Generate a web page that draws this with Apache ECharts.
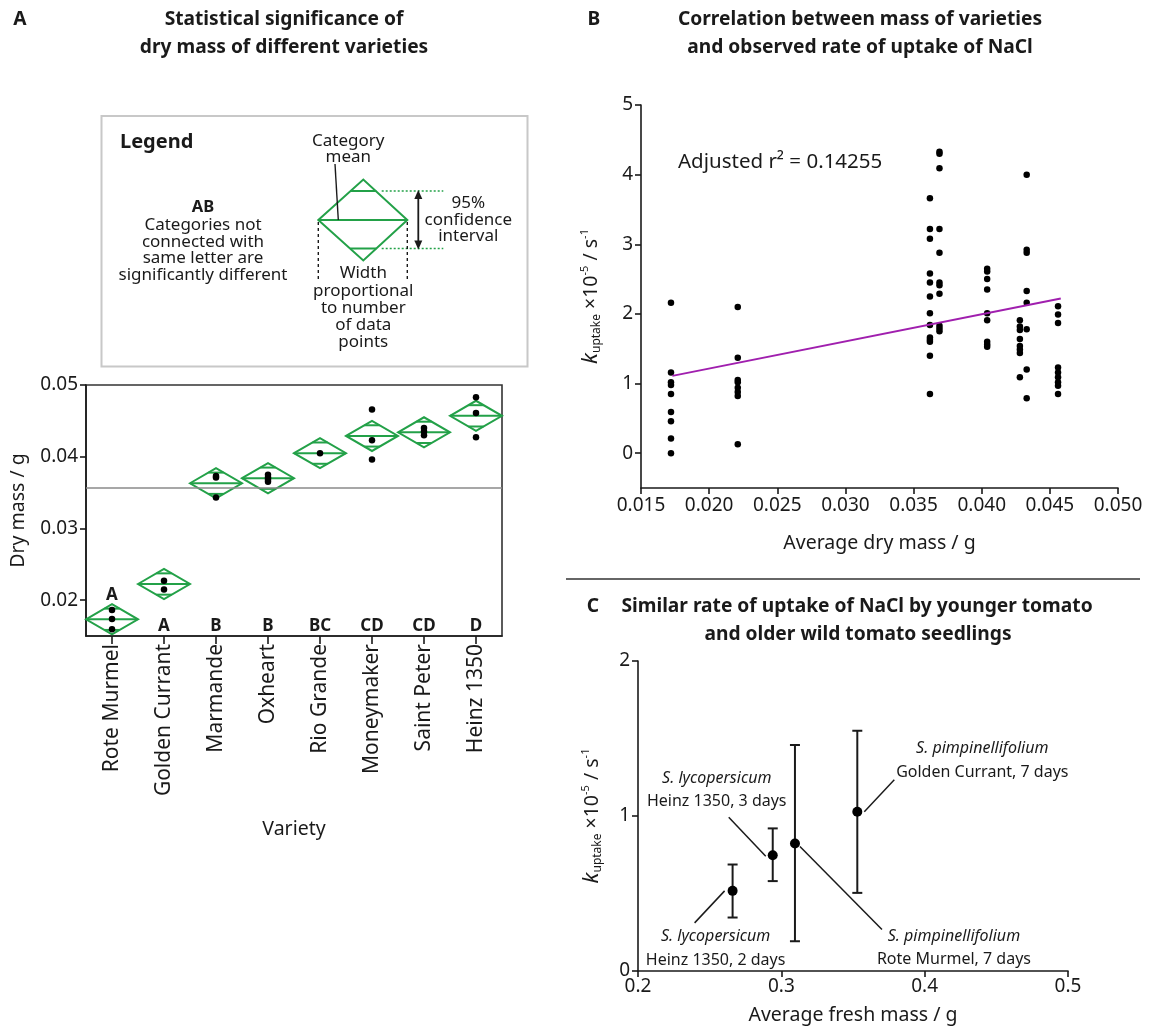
<!DOCTYPE html>
<html>
<head>
<meta charset="utf-8">
<script src="https://cdn.jsdelivr.net/npm/echarts@6/dist/echarts.min.js"></script>
<style>
  html, body { margin: 0; padding: 0; background: #fff; }
  #chart { width: 1151px; height: 1030px; }
</style>
</head>
<body>
<div id="chart"></div>
<script>
// ---- data ----
const varieties = ['Rote Murmel', 'Golden Currant', 'Marmande', 'Oxheart', 'Rio Grande', 'Moneymaker', 'Saint Peter', 'Heinz 1350']
const groupLetters = ['A', 'A', 'B', 'B', 'BC', 'CD', 'CD', 'D']
const dryMassMean = [0.01733, 0.02225, 0.0363, 0.0370, 0.0405, 0.0429, 0.0434, 0.0457]
const dryMassCI = [0.0021, 0.0021, 0.0021, 0.0021, 0.0021, 0.0021, 0.0021, 0.0021]
const dryMassPoints = [
  [0.01863, 0.01737, 0.01593],
  [0.0227, 0.0215],
  [0.0373, 0.0371, 0.0343],
  [0.0375, 0.0371, 0.0368, 0.0365],
  [0.0405],
  [0.0466, 0.0423, 0.0396],
  [0.0440, 0.0435, 0.0430],
  [0.0483, 0.0461, 0.0427]
]
const grandMean = 0.03568
const dryMassTicks = [0.02, 0.03, 0.04, 0.05]

const uptakeMass = [0.0172, 0.0221, 0.0362, 0.0369, 0.0404, 0.0428, 0.0433, 0.0456]
const uptakeRates = [
  [2.16, 1.16, 1.02, 0.98, 0.85, 0.59, 0.46, 0.21, 0.00],
  [2.10, 1.37, 1.05, 1.02, 0.94, 0.88, 0.82, 0.13],
  [3.66, 3.22, 3.08, 2.58, 2.45, 2.25, 2.01, 1.84, 1.66, 1.63, 1.60, 1.40, 0.85],
  [4.33, 4.30, 4.09, 3.22, 2.88, 2.45, 2.41, 2.29, 1.83, 1.79, 1.75],
  [2.65, 2.61, 2.50, 2.35, 2.01, 1.91, 1.60, 1.56, 1.53],
  [1.91, 1.82, 1.77, 1.64, 1.54, 1.49, 1.44, 1.09],
  [4.00, 2.92, 2.88, 2.33, 2.16, 1.78, 1.20, 0.79],
  [2.11, 1.99, 1.87, 1.23, 1.16, 1.09, 1.02, 0.97, 0.85]
]
const fitLine = [[0.0173, 1.11], [0.0458, 2.22]]
const massTicksB = [0.015, 0.020, 0.025, 0.030, 0.035, 0.040, 0.045, 0.050]
const rateTicksB = [0, 1, 2, 3, 4, 5]

const freshMass = [0.266, 0.294, 0.3095, 0.353]
const uptakeC = [0.517, 0.747, 0.823, 1.027]
const uptakeLow = [0.345, 0.58, 0.192, 0.504]
const uptakeHigh = [0.687, 0.92, 1.458, 1.55]
const species = ['S. lycopersicum', 'S. lycopersicum', 'S. pimpinellifolium', 'S. pimpinellifolium']
const sampleNames = ['Heinz 1350, 2 days', 'Heinz 1350, 3 days', 'Rote Murmel, 7 days', 'Golden Currant, 7 days']
const massTicksC = [0.2, 0.3, 0.4, 0.5]
const rateTicksC = [0, 1, 2]

// ---- styling ----
const FONT = '"Noto Sans", "Open Sans", sans-serif'
const INK = '#1a1a1a'
const GREEN = '#23a148'
const PURPLE = '#a01fae'
const TICK_FS = 19
const NAME_FS = 19.5
const TITLE_FS = 19.2
const LEGEND_FS = 17

// annotation leader/text offsets (px, relative to the point)
const annotLayout = [
  { leader: [-8, 0, -38, 32], text: [-17, 46] },
  { leader: [-7, 1, -44, -38], text: [-56, -77] },
  { leader: [5, 3, 87, 86], text: [159, 93] },
  { leader: [7, 0, 37, -32], text: [125, -63] }
]

const chart = echarts.init(document.getElementById('chart'))

const lineSt = { color: INK, width: 1.6 }
const axisCommon = {
  axisLine: { show: true, onZero: false, lineStyle: lineSt },
  splitLine: { show: false },
  nameLocation: 'middle',
  nameTextStyle: { color: INK, fontSize: NAME_FS, fontFamily: FONT }
}
const ticks = (values, len) => ({ show: true, length: len || 6, customValues: values, lineStyle: lineSt })
const labels = (values, fmt, extra) => Object.assign({
  color: INK, fontSize: TICK_FS, fontFamily: FONT, customValues: values, formatter: fmt
}, extra)

const kName = '{k|k}{sub|uptake} ×10{sup|-5} / s{sup|-1}'
const kRich = {
  k: { fontStyle: 'italic', fontSize: 22, fontFamily: FONT, color: INK },
  sub: { fontSize: 12, fontFamily: FONT, color: INK, padding: [12, 0, 0, 0] },
  sup: { fontSize: 11, fontFamily: FONT, color: INK, padding: [0, 0, 12, 0] }
}

const scatterA = []
dryMassPoints.forEach((list, i) => list.forEach(v => scatterA.push([i, v])))
const scatterB = []
uptakeRates.forEach((list, i) => list.forEach(v => scatterB.push([uptakeMass[i], v])))

const txt = (text, x, y, opts = {}) => ({
  type: 'text', x, y, silent: true,
  style: Object.assign({
    text, fill: INK, fontSize: LEGEND_FS, fontFamily: FONT,
    align: 'center', textAlign: 'center', verticalAlign: 'middle', textVerticalAlign: 'middle'
  }, opts)
})
const seg = (x1, y1, x2, y2, style) => ({
  type: 'line', silent: true, shape: { x1, y1, x2, y2 },
  style: Object.assign({ stroke: INK, lineWidth: 1.5 }, style)
})
const bold = { fontWeight: 'bold', fontSize: TITLE_FS }

const graphics = [
  // titles
  txt('A', 20, 20, bold),
  txt('Statistical significance of', 284, 20, bold),
  txt('dry mass of different varieties', 284, 48, bold),
  txt('B', 594, 20, bold),
  txt('Correlation between mass of varieties', 860, 20, bold),
  txt('and observed rate of uptake of NaCl', 860, 48, bold),
  txt('C', 593, 607, bold),
  txt('Similar rate of uptake of NaCl by younger tomato', 857, 607, bold),
  txt('and older wild tomato seedlings', 858, 635, bold),
  seg(566, 579, 1140, 579, { stroke: '#333', lineWidth: 1.5 }),
  txt('Adjusted r² = 0.14255', 678, 162, { align: 'left', textAlign: 'left', fontSize: 20.5 }),

  // legend box
  { type: 'rect', silent: true, shape: { x: 101.5, y: 116, width: 426, height: 250.5 },
    style: { fill: 'none', stroke: '#c8c8c8', lineWidth: 2 } },
  txt('Legend', 120, 142, { align: 'left', textAlign: 'left', fontWeight: 'bold', fontSize: 20 }),
  txt('AB', 203, 207, { fontWeight: 'bold', fontSize: 16.5 }),
  txt('Categories not', 203, 225),
  txt('connected with', 203, 242),
  txt('same letter are', 203, 258.5),
  txt('significantly different', 203, 275),
  { type: 'polygon', silent: true,
    shape: { points: [[318.3, 220], [363.3, 179.5], [407.3, 220], [363.3, 260.5]] },
    style: { fill: 'none', stroke: GREEN, lineWidth: 2 } },
  seg(318.3, 220, 407.3, 220, { stroke: GREEN, lineWidth: 2 }),
  seg(350.3, 191, 376.3, 191, { stroke: GREEN, lineWidth: 2 }),
  seg(350.3, 248.5, 376.3, 248.5, { stroke: GREEN, lineWidth: 2 }),
  seg(381.7, 191, 443.3, 191, { stroke: GREEN, lineWidth: 1.5, lineDash: [2, 2] }),
  seg(381.7, 248.5, 443.3, 248.5, { stroke: GREEN, lineWidth: 1.5, lineDash: [2, 2] }),
  seg(418.3, 196, 418.3, 243.5, { lineWidth: 1.8 }),
  { type: 'polygon', silent: true, shape: { points: [[418.3, 190], [414.3, 199], [422.3, 199]] }, style: { fill: INK } },
  { type: 'polygon', silent: true, shape: { points: [[418.3, 249.5], [414.3, 240.5], [422.3, 240.5]] }, style: { fill: INK } },
  seg(318.3, 222, 318.3, 281, { lineWidth: 1.4, lineDash: [3, 3] }),
  seg(407.3, 222, 407.3, 281, { lineWidth: 1.4, lineDash: [3, 3] }),
  seg(335, 164, 338.3, 220, { lineWidth: 1.4 }),
  txt('Category', 348.3, 141),
  txt('mean', 348.3, 157),
  txt('95%', 468.3, 203.5),
  txt('confidence', 468.3, 220),
  txt('interval', 468.3, 236.5),
  txt('Width', 363.3, 273.5),
  txt('proportional', 363.3, 291),
  txt('to number', 363.3, 308),
  txt('of data', 363.3, 325),
  txt('points', 363.3, 342)
]

const option = {
  backgroundColor: '#fff',
  animation: false,
  textStyle: { fontFamily: FONT },
  grid: [
    { left: 86, top: 385, width: 416, height: 251, show: true, borderColor: '#333', borderWidth: 1.6, backgroundColor: 'transparent' },
    { left: 641, top: 105, width: 477, height: 383 },
    { left: 638, top: 661, width: 430, height: 310 }
  ],
  xAxis: [
    Object.assign({}, axisCommon, {
      gridIndex: 0, type: 'category', data: varieties, boundaryGap: true,
      axisTick: { show: true, alignWithLabel: true, length: 8, lineStyle: lineSt },
      axisLabel: { color: INK, fontSize: 21, fontFamily: FONT, rotate: 90, margin: 8, interval: 0 },
      name: 'Variety', nameGap: 183
    }),
    Object.assign({}, axisCommon, {
      gridIndex: 1, type: 'value', min: 0.015, max: 0.05,
      axisLabel: labels(massTicksB, v => v.toFixed(3)),
      axisTick: ticks(massTicksB),
      name: 'Average dry mass / g', nameGap: 45
    }),
    Object.assign({}, axisCommon, {
      gridIndex: 2, type: 'value', min: 0.2, max: 0.5,
      axisLabel: labels(massTicksC, v => String(+v.toFixed(1)), { margin: 6 }),
      axisTick: ticks(massTicksC),
      name: 'Average fresh mass / g', nameGap: 34
    })
  ],
  yAxis: [
    Object.assign({}, axisCommon, {
      gridIndex: 0, type: 'value', min: 0.015, max: 0.05,
      axisLabel: labels(dryMassTicks, v => v.toFixed(2)),
      axisTick: ticks(dryMassTicks),
      name: 'Dry mass / g', nameGap: 58
    }),
    Object.assign({}, axisCommon, {
      gridIndex: 1, type: 'value', min: -0.5, max: 5,
      axisLabel: labels(rateTicksB, v => String(v)),
      axisTick: ticks(rateTicksB),
      name: kName, nameGap: 38,
      nameTextStyle: { color: INK, fontSize: NAME_FS, fontFamily: FONT, rich: kRich }
    }),
    Object.assign({}, axisCommon, {
      gridIndex: 2, type: 'value', min: 0, max: 2,
      axisLabel: labels(rateTicksC, v => String(v)),
      axisTick: ticks(rateTicksC),
      name: kName, nameGap: 34,
      nameTextStyle: { color: INK, fontSize: NAME_FS, fontFamily: FONT, rich: kRich }
    })
  ],
  series: [
    // A: means diamonds + group letters
    {
      type: 'custom', xAxisIndex: 0, yAxisIndex: 0, silent: true,
      data: dryMassMean.map((m, i) => [i, m, dryMassCI[i]]),
      renderItem: (params, api) => {
        const i = api.value(0), m = api.value(1), h = api.value(2)
        const c = api.coord([i, m])
        const top = api.coord([i, m + h])[1]
        const bot = api.coord([i, m - h])[1]
        const w = api.size([1, 0])[0] / 2
        const H = c[1] - top
        const k = 1 / Math.SQRT2
        const ow = w * (1 - k)
        const green = { stroke: GREEN, lineWidth: 2, fill: 'none' }
        const base = api.coord([i, 0.015])[1]
        const letterY = (bot > base - 26) ? top - 9 : base - 9.5
        return {
          type: 'group',
          children: [
            { type: 'polygon', shape: { points: [[c[0] - w, c[1]], [c[0], top], [c[0] + w, c[1]], [c[0], bot]] }, style: green },
            { type: 'line', shape: { x1: c[0] - w, y1: c[1], x2: c[0] + w, y2: c[1] }, style: green },
            { type: 'line', shape: { x1: c[0] - ow, y1: c[1] - H * k, x2: c[0] + ow, y2: c[1] - H * k }, style: green },
            { type: 'line', shape: { x1: c[0] - ow, y1: c[1] + H * k, x2: c[0] + ow, y2: c[1] + H * k }, style: green },
            { type: 'text', x: c[0], y: letterY,
              style: { text: groupLetters[i], fill: INK, fontSize: 17, fontWeight: 'bold', fontFamily: FONT,
                align: 'center', textAlign: 'center', verticalAlign: 'middle', textVerticalAlign: 'middle' } }
          ]
        }
      }
    },
    {
      type: 'scatter', xAxisIndex: 0, yAxisIndex: 0, silent: true,
      data: scatterA, symbolSize: 6.5, itemStyle: { color: '#000', opacity: 1 },
      markLine: {
        silent: true, symbol: 'none', precision: 6, label: { show: false },
        lineStyle: { color: '#8a8a8a', width: 1.6, type: 'solid' },
        data: [{ yAxis: grandMean }]
      }
    },
    // B
    {
      type: 'line', xAxisIndex: 1, yAxisIndex: 1, silent: true,
      data: fitLine, showSymbol: false, symbol: 'none',
      lineStyle: { color: PURPLE, width: 2 }
    },
    {
      type: 'scatter', xAxisIndex: 1, yAxisIndex: 1, silent: true,
      data: scatterB, symbolSize: 6.5, itemStyle: { color: '#000', opacity: 1 }
    },
    // C: error bars
    {
      type: 'custom', xAxisIndex: 2, yAxisIndex: 2, silent: true,
      data: freshMass.map((x, i) => [x, uptakeLow[i], uptakeHigh[i]]),
      renderItem: (params, api) => {
        const lo = api.coord([api.value(0), api.value(1)])
        const hi = api.coord([api.value(0), api.value(2)])
        const st = { stroke: INK, lineWidth: 2 }
        return {
          type: 'group',
          children: [
            { type: 'line', shape: { x1: lo[0], y1: lo[1], x2: hi[0], y2: hi[1] }, style: st },
            { type: 'line', shape: { x1: lo[0] - 5, y1: lo[1], x2: lo[0] + 5, y2: lo[1] }, style: st },
            { type: 'line', shape: { x1: hi[0] - 5, y1: hi[1], x2: hi[0] + 5, y2: hi[1] }, style: st }
          ]
        }
      }
    },
    {
      type: 'scatter', xAxisIndex: 2, yAxisIndex: 2, silent: true,
      data: freshMass.map((x, i) => [x, uptakeC[i]]), symbolSize: 10, itemStyle: { color: '#000', opacity: 1 }
    },
    // C: annotations
    {
      type: 'custom', xAxisIndex: 2, yAxisIndex: 2, silent: true,
      data: freshMass.map((x, i) => [x, uptakeC[i], i]),
      renderItem: (params, api) => {
        const i = api.value(2)
        const p = api.coord([api.value(0), api.value(1)])
        const L = annotLayout[i]
        const ts = (text, dy, italic) => ({
          type: 'text', x: p[0] + L.text[0], y: p[1] + L.text[1] + dy,
          style: { text, fill: INK, fontSize: 16, fontFamily: FONT, fontStyle: italic ? 'italic' : 'normal',
            align: 'center', textAlign: 'center', verticalAlign: 'middle', textVerticalAlign: 'middle' }
        })
        return {
          type: 'group',
          children: [
            { type: 'line', shape: { x1: p[0] + L.leader[0], y1: p[1] + L.leader[1], x2: p[0] + L.leader[2], y2: p[1] + L.leader[3] },
              style: { stroke: INK, lineWidth: 1.5 } },
            ts(species[i], 0, true),
            ts(sampleNames[i], 23.5, false)
          ]
        }
      }
    }
  ],
  graphic: graphics
}

chart.setOption(option)
window.addEventListener('resize', () => chart.resize())
</script>
</body>
</html>
